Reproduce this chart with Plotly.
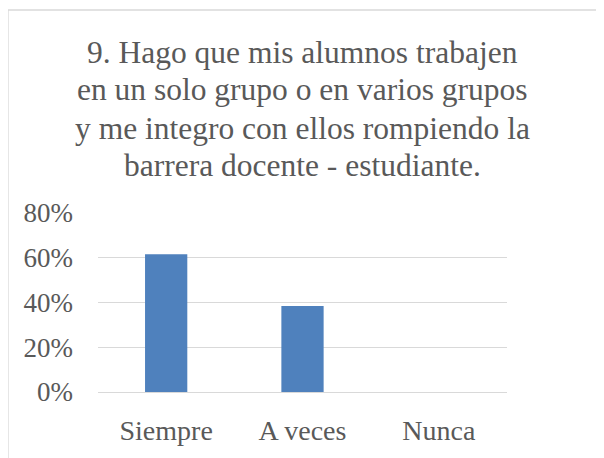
import plotly.graph_objects as go

categories = ["Siempre", "A veces", "Nunca"]
values = [0.6154, 0.3846, 0.0]
y_ticks = [0, 0.2, 0.4, 0.6, 0.8]
y_tick_labels = ["0%", "20%", "40%", "60%", "80%"]
title_lines = ["9. Hago que mis alumnos trabajen",
               "en un solo grupo o en varios grupos",
               "y me integro con ellos rompiendo la",
               "barrera docente - estudiante."]

font_family = "Liberation Serif"
text_color = "#595959"

# figure is drawn inside the page's 8px body margin
W, H = 596, 450
L, R, T, B = 90, 97, 205, 66
plot_h = H - T - B

fig = go.Figure(go.Bar(x=categories, y=values, marker=dict(color="#4f81bd", line=dict(width=0)),
                       width=0.31))

title_mid_px = [44, 82, 120, 157.5]
annotations = [dict(text=t, xref="paper", yref="paper", x=0.5,
                    y=(H - B - py) / plot_h,
                    xanchor="center", yanchor="middle", showarrow=False,
                    font=dict(family=font_family, size=31.5, color=text_color))
               for t, py in zip(title_lines, title_mid_px)]

fig.update_layout(
    width=W, height=H,
    margin=dict(l=L, r=R, t=T, b=B, autoexpand=False),
    paper_bgcolor="white", plot_bgcolor="white",
    showlegend=False,
    font=dict(family=font_family, color=text_color),
    xaxis=dict(showline=False, showgrid=False, zeroline=False, ticks="",
               tickfont=dict(family=font_family, size=28, color=text_color), ticklabelstandoff=19),
    yaxis=dict(range=[0, 0.8], tickvals=y_ticks, ticktext=y_tick_labels,
               showgrid=True, gridcolor="#d9d9d9", gridwidth=1.3, zeroline=True,
               zerolinecolor="#d9d9d9", zerolinewidth=1.3, showline=False, ticks="",
               tickfont=dict(family=font_family, size=27, color=text_color), ticklabelstandoff=24),
    annotations=annotations,
    shapes=[dict(type="rect", xref="paper", yref="paper",
                 x0=-L / (W - L - R), x1=1.3, y0=-0.5, y1=(H - B - 2) / plot_h,
                 line=dict(color="#d9d9d9", width=1.3), fillcolor="rgba(0,0,0,0)",
                 layer="below")],
)

fig.write_html("out.html")
